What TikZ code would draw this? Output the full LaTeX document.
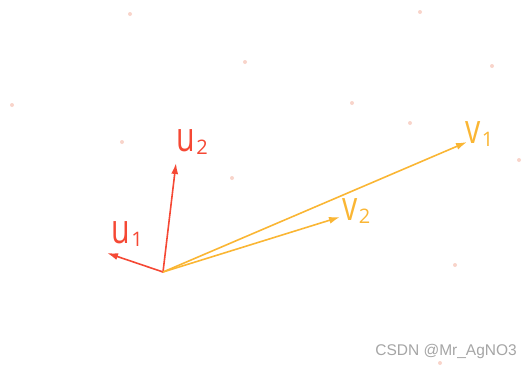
\documentclass[tikz,border=0pt]{standalone}
\usepackage{fontspec}
\setmainfont{Open Sans}
\newfontfamily\markfont{Liberation Sans}
\usetikzlibrary{arrows.meta}

\definecolor{ured}{RGB}{245,72,52}
\definecolor{vorange}{RGB}{250,182,52}
\definecolor{dotpink}{RGB}{248,212,202}
\definecolor{markgray}{RGB}{165,165,165}

% vector name with a small lowered index
\newcommand{\veclabel}[2]{%
    \scalebox{0.74}[1]{\fontsize{41}{41}\selectfont #1}%
    \kern1.5pt\raisebox{-3pt}{\fontsize{20}{20}\selectfont #2}}

\begin{document}
\begin{tikzpicture}[
    x=1pt, y=-1pt,
    uarrow/.style={
        draw=ured,
        line width=1.6pt,
        -{Latex[length=11pt, width=7pt]}
    },
    varrow/.style={
        draw=vorange,
        line width=1.6pt,
        -{Latex[length=11pt, width=7pt]}
    },
    ulabel/.style={anchor=base west, inner sep=0pt, text=ured},
    vlabel/.style={anchor=base west, inner sep=0pt, text=vorange},
    bgdot/.style={fill=dotpink, draw=none}
]

\useasboundingbox (0,0) rectangle (524,370);

% faint background dots
\foreach \px/\py in {122/142, 410/123, 519/160, 440/363, 130/14, 245/62,
                     420/12, 492/66, 12/105, 352/103, 232/178, 455/265}
    \fill[bgdot] (\px,\py) circle (2pt);

\coordinate (origin) at (163,272);
\coordinate (u1tip) at (107,253);
\coordinate (u2tip) at (176,163);
\coordinate (v1tip) at (467,142);
\coordinate (v2tip) at (340,217);

\draw[uarrow] (origin) -- (u1tip);
\draw[uarrow] (origin) -- (u2tip);
\draw[varrow] (origin) -- (v1tip);
\draw[varrow] (origin) -- (v2tip);

\node[ulabel] (u1) at (111,243) {\veclabel{u}{1}};
\node[ulabel] (u2) at (176,151) {\veclabel{u}{2}};
\node[vlabel] (v1) at (465,143) {\veclabel{v}{1}};
\node[vlabel] (v2) at (342,220) {\veclabel{v}{2}};

\node[anchor=base east, inner sep=0pt, text=markgray,
      font=\markfont\fontsize{15.5}{16}\selectfont] (mark) at (517,355)
    {CSDN @Mr\_AgNO3};

\end{tikzpicture}
\end{document}
